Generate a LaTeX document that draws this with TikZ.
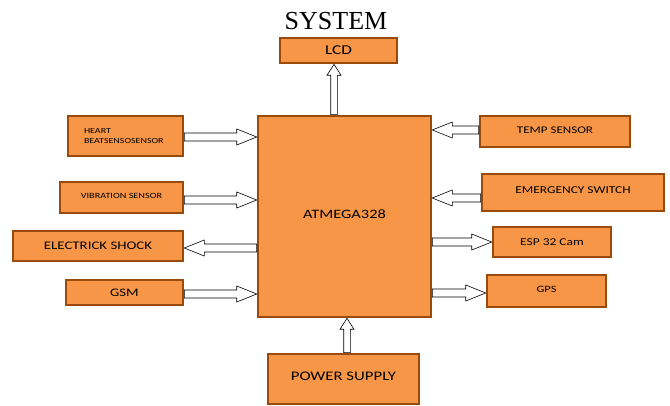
\documentclass[tikz,border=0pt]{standalone}
\usepackage{fontspec}
\setmainfont{Carlito}[FakeStretch=1.28]
\newfontfamily\titlefont{Liberation Serif}
\usetikzlibrary{calc}
\definecolor{boxfill}{HTML}{F79646}
\definecolor{boxline}{HTML}{9A4A0A}
\tikzset{
  blk/.style={draw=boxline, line width=2.6pt, fill=boxfill, inner sep=0pt, text=black},
  blockarrow/.style n args={3}{draw=black, fill=white, line width=0.6pt,
    to path={
      ($(\tikztostart)!#1!90:(\tikztotarget)$)
      -- ($($(\tikztotarget)!#3!(\tikztostart)$)!#1!90:(\tikztotarget)$)
      -- ($($(\tikztotarget)!#3!(\tikztostart)$)!#2!90:(\tikztotarget)$)
      -- (\tikztotarget)
      -- ($($(\tikztotarget)!#3!(\tikztostart)$)!#2!-90:(\tikztotarget)$)
      -- ($($(\tikztotarget)!#3!(\tikztostart)$)!#1!-90:(\tikztotarget)$)
      -- ($(\tikztostart)!#1!-90:(\tikztotarget)$)
      -- cycle}},
  harrow/.style={blockarrow={4pt}{8pt}{20pt}},
  varrow/.style={blockarrow={3.3pt}{7pt}{11pt}}
}
\begin{document}
\begin{tikzpicture}[x=1pt,y=-1pt]
\useasboundingbox (0,0) rectangle (670,406);
\node[font=\titlefont\fontsize{26}{26}\selectfont] (title) at (336,21) {SYSTEM};
\node[blk, minimum width=117pt, minimum height=25pt, font=\fontsize{13.5}{13.5}\selectfont] (lcd) at (338.5,50.5) {LCD};
\node[blk, minimum width=173pt, minimum height=201pt, font=\fontsize{12.8}{12.8}\selectfont] (atm) at (344.5,216.5) {\raisebox{4pt}{ATMEGA328}};
\node[blk, minimum width=115pt, minimum height=40pt, align=left, text width=83pt, font=\fontsize{7.8}{10}\selectfont] (heart) at (125.5,136) {\raisebox{4pt}{\parbox{83pt}{HEART\\BEATSENSOSENSOR}}};
\node[blk, minimum width=123pt, minimum height=31pt, font=\fontsize{8}{8}\selectfont] (vib) at (121.5,197.5) {\raisebox{3pt}{VIBRATION SENSOR}};
\node[blk, minimum width=170pt, minimum height=30pt, font=\fontsize{11.6}{11.6}\selectfont] (shock) at (98,246) {ELECTRICK SHOCK};
\node[blk, minimum width=117pt, minimum height=25pt, font=\fontsize{11.5}{11.5}\selectfont] (gsm) at (124.5,292.5) {GSM};
\node[blk, minimum width=150pt, minimum height=31pt, font=\fontsize{10.2}{10.2}\selectfont] (temp) at (555,131.5) {\raisebox{3.5pt}{TEMP SENSOR}};
\node[blk, minimum width=182pt, minimum height=37pt, font=\fontsize{10.5}{10.5}\selectfont] (emer) at (573,192.5) {\raisebox{4.5pt}{EMERGENCY SWITCH}};
\node[blk, minimum width=118pt, minimum height=30pt, font=\fontsize{10.5}{10.5}\selectfont] (esp) at (552,242) {ESP 32 Cam};
\node[blk, minimum width=119pt, minimum height=32pt, font=\fontsize{9.7}{9.7}\selectfont] (gps) at (546.5,291) {\raisebox{3pt}{GPS}};
\node[blk, minimum width=151pt, minimum height=50pt, font=\fontsize{13.1}{13.1}\selectfont] (power) at (343.5,379) {\raisebox{5pt}{POWER SUPPLY}};
% connectors
\draw[varrow] (atm.north -| 334,0) to (lcd.south -| 334,0);
\draw[varrow] (power.north -| 347,0) to (atm.south -| 347,0);
\draw[harrow] (heart.east |- 0,137) to (atm.west |- 0,137);
\draw[harrow] (vib.east |- 0,200) to (atm.west |- 0,200);
\draw[harrow] (atm.west |- 0,248) to (shock.east |- 0,248);
\draw[harrow] (gsm.east |- 0,294) to (atm.west |- 0,294);
\draw[harrow] (temp.west |- 0,130) to (atm.east |- 0,130);
\draw[harrow] (emer.west |- 0,198) to (atm.east |- 0,198);
\draw[harrow] (atm.east |- 0,242) to (esp.west |- 0,242);
\draw[harrow] (atm.east |- 0,293) to (gps.west |- 0,293);
\end{tikzpicture}
\end{document}
